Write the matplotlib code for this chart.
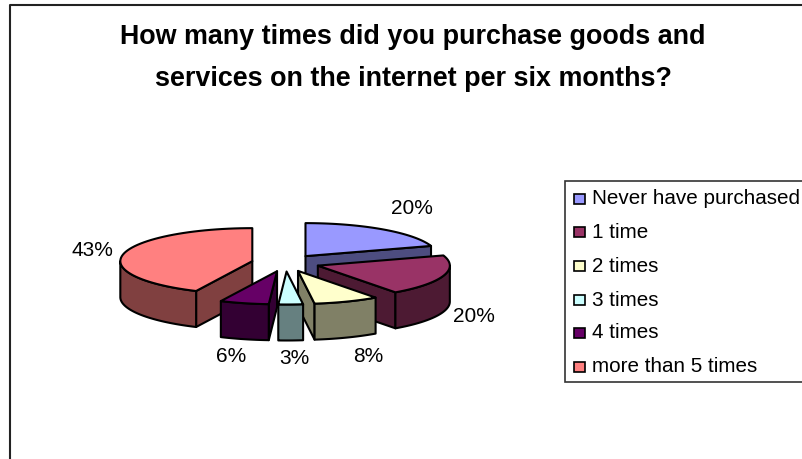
import numpy as np
import matplotlib
matplotlib.use('agg')
import matplotlib.pyplot as plt
from matplotlib.patches import Polygon, Rectangle

plt.rcParams['font.family'] = ['Liberation Sans', 'DejaVu Sans']

title = 'How many times did you purchase goods and\nservices on the internet per six months?'
categories = ['Never have purchased', '1 time', '2 times', '3 times', '4 times', 'more than 5 times']
values = [20, 20, 8, 3, 6, 43]
top_colors = ['#9999FF', '#993366', '#FFFFCC', '#CCFFFF', '#660066', '#FF8080']
side_colors = ['#4D4D80', '#4D1A33', '#808066', '#668080', '#330033', '#804040']

# pie geometry, in pixels of the picture
cx, cy = 285.5, 263
rx, ry = 132, 33
depth = 36
explode = 34
squash = 0.25

fig = plt.figure(figsize=(8.02, 4.59), dpi=100)
ax = fig.add_axes([0, 0, 1, 1])
ax.set_xlim(0, 802)
ax.set_ylim(459, 0)
ax.axis('off')

# chart frame runs off the right and bottom of the image
ax.plot([10, 10, 802], [459, 5, 5], color='#222222', lw=1.5)

ax.text(413, 58, title, ha='center', va='center', fontsize=19.4, fontweight='bold',
        color='black', linespacing=1.78)


def rim_point(hub, angle):
    return hub[0] + rx * np.sin(angle), hub[1] - ry * np.cos(angle)


def wall(points):
    # a list of top edge points pushed down by the depth
    lower = [(x, y + depth) for x, y in reversed(points)]
    return points + lower


edges = np.radians(np.cumsum([0] + values) * 3.6)
slices = []
for i in range(len(values)):
    a0, a1 = edges[i], edges[i + 1]
    mid = (a0 + a1) / 2
    hub = (cx + explode * np.sin(mid), cy - explode * squash * np.cos(mid))
    slices.append((hub[1], i, a0, a1, hub))

# back to front
for _, i, a0, a1, hub in sorted(slices, key=lambda s: s[0]):
    style = dict(edgecolor='black', lw=1.5, joinstyle='round')
    p0 = rim_point(hub, a0)
    p1 = rim_point(hub, a1)
    if np.sin(a0) < -1e-6:
        ax.add_patch(Polygon(wall([hub, p0]), facecolor=side_colors[i], **style))
    if np.sin(a1) > 1e-6:
        ax.add_patch(Polygon(wall([hub, p1]), facecolor=side_colors[i], **style))
    lo, hi = max(a0, np.pi / 2), min(a1, 3 * np.pi / 2)
    if hi > lo:
        arc = [rim_point(hub, a) for a in np.linspace(lo, hi, 40)]
        ax.add_patch(Polygon(wall(arc), facecolor=side_colors[i], **style))
    top = [hub] + [rim_point(hub, a) for a in np.linspace(a0, a1, 60)]
    ax.add_patch(Polygon(top, facecolor=top_colors[i], **style))

# percent labels
label_x = [412, 474, 368, 294, 231, 92]
label_y = [208, 316, 357, 359, 357, 250]
for v, x, y in zip(values, label_x, label_y):
    ax.text(x, y, '%d%%' % v, ha='center', va='center', fontsize=15, color='black')

# legend
ax.add_patch(Rectangle((565, 181), 260, 201, facecolor='white', edgecolor='#333333', lw=1.2))
legend_y = [199, 232, 266, 300, 333, 367]
for name, color, y in zip(categories, top_colors, legend_y):
    ax.add_patch(Rectangle((574, y - 5), 11, 10, facecolor=color, edgecolor='black', lw=1.2))
    ax.text(592, y, name, ha='left', va='center', fontsize=14.85, color='black')

plt.savefig('out.png', dpi=100)
